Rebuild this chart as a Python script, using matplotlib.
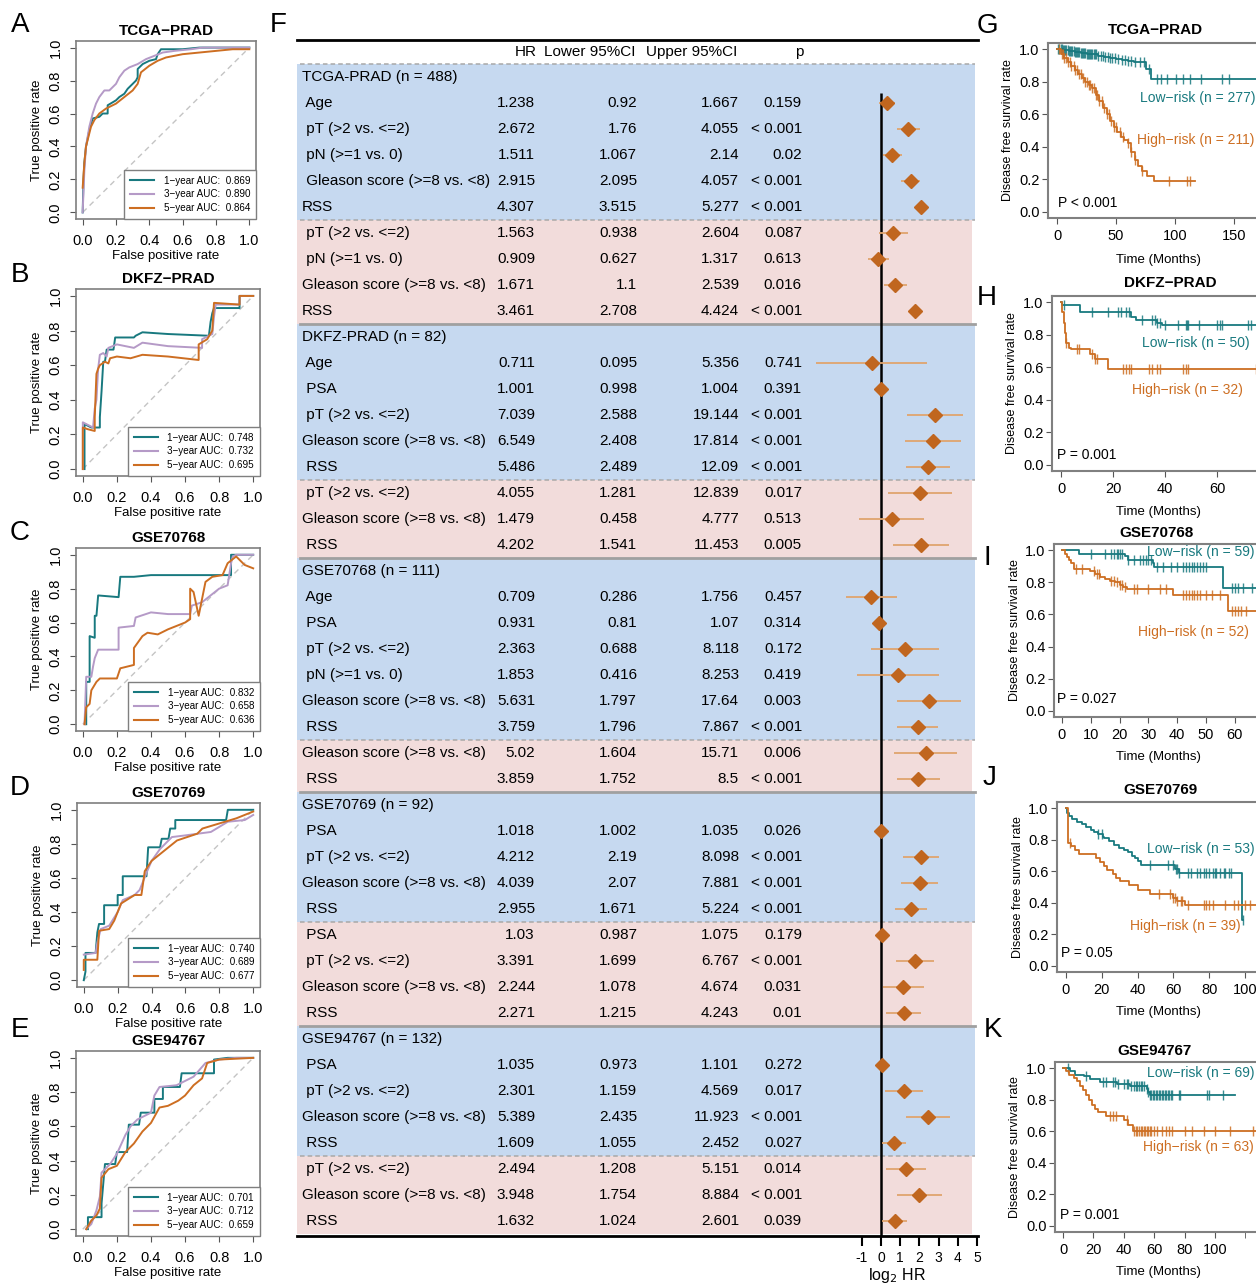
"""
Prognostic signature figure: ROC (A-E), multivariate forest (F), KM curves (G-K)
"""

import numpy as np
import matplotlib.pyplot as plt
from matplotlib.lines import Line2D
from matplotlib.transforms import blended_transform_factory

plt.rcParams['font.family'] = ['Liberation Sans', 'DejaVu Sans']
plt.rcParams['axes.unicode_minus'] = False

W, H = 1256, 1284
TEAL = '#18797F'
PURPLE = '#B59AC7'
ORANGE = '#CD6E22'
DASH = '\u2212'

# ---------------- ROC curves (fpr, tpr) ----------------
tcga_roc_1y = [(0, 0), (0.005, 0.2), (0.01, 0.3), (0.02, 0.4), (0.04, 0.5), (0.06, 0.57), (0.1, 0.58),
               (0.12, 0.6), (0.15, 0.6), (0.15, 0.65), (0.2, 0.68), (0.22, 0.7), (0.25, 0.72), (0.27, 0.75),
               (0.3, 0.78), (0.32, 0.8), (0.33, 0.82), (0.33, 0.87), (0.36, 0.9), (0.4, 0.92), (0.44, 0.93),
               (0.45, 0.96), (0.47, 0.99), (0.6, 0.99), (0.7, 1.0), (1, 1)]
tcga_roc_3y = [(0, 0), (0.01, 0.25), (0.02, 0.4), (0.04, 0.52), (0.06, 0.6), (0.08, 0.66), (0.1, 0.7),
               (0.13, 0.74), (0.16, 0.74), (0.2, 0.78), (0.22, 0.82), (0.25, 0.86), (0.28, 0.88), (0.33, 0.9),
               (0.38, 0.93), (0.43, 0.95), (0.48, 0.97), (0.55, 0.98), (0.65, 0.99), (0.72, 1.0), (1, 1)]
tcga_roc_5y = [(0, 0.15), (0.01, 0.3), (0.02, 0.4), (0.05, 0.52), (0.07, 0.56), (0.1, 0.6), (0.14, 0.63),
               (0.2, 0.66), (0.25, 0.7), (0.3, 0.74), (0.33, 0.78), (0.35, 0.85), (0.4, 0.89), (0.45, 0.92),
               (0.5, 0.94), (0.6, 0.96), (0.7, 0.97), (0.8, 0.98), (0.9, 0.99), (1, 0.99)]
tcga_auc = ['0.869', '0.890', '0.864']

dkfz_roc_1y = [(0.01, 0), (0.01, 0.26), (0.05, 0.24), (0.1, 0.24), (0.1, 0.3), (0.11, 0.45), (0.12, 0.62),
               (0.13, 0.62), (0.14, 0.69), (0.18, 0.69), (0.19, 0.76), (0.3, 0.76), (0.31, 0.77), (0.35, 0.79),
               (0.5, 0.78), (0.74, 0.77), (0.75, 0.85), (0.76, 0.9), (0.77, 0.93), (0.92, 0.93), (0.92, 1), (1, 1)]
dkfz_roc_3y = [(0, 0), (0, 0.27), (0.02, 0.26), (0.06, 0.24), (0.07, 0.35), (0.08, 0.4), (0.09, 0.58),
               (0.1, 0.66), (0.12, 0.67), (0.14, 0.65), (0.15, 0.7), (0.2, 0.72), (0.3, 0.7), (0.35, 0.73),
               (0.5, 0.71), (0.7, 0.7), (0.7, 0.75), (0.76, 0.78), (0.77, 0.88), (0.78, 0.95), (0.92, 0.95),
               (0.92, 1), (1, 1)]
dkfz_roc_5y = [(0, 0), (0, 0.24), (0.03, 0.23), (0.07, 0.22), (0.07, 0.3), (0.08, 0.55), (0.09, 0.58),
               (0.1, 0.6), (0.13, 0.62), (0.15, 0.61), (0.16, 0.64), (0.2, 0.65), (0.28, 0.64), (0.35, 0.66),
               (0.5, 0.65), (0.68, 0.63), (0.68, 0.72), (0.73, 0.75), (0.76, 0.8), (0.77, 0.96), (0.92, 0.95),
               (0.92, 1), (1, 1)]
dkfz_auc = ['0.748', '0.732', '0.695']

g68_roc_1y = [(0.02, 0), (0.02, 0.25), (0.04, 0.25), (0.04, 0.52), (0.07, 0.51), (0.07, 0.64), (0.08, 0.64),
              (0.09, 0.76), (0.21, 0.75), (0.22, 0.87), (0.3, 0.87), (0.4, 0.88), (0.87, 0.88), (0.87, 1.0), (1, 1)]
g68_roc_3y = [(0.01, 0), (0.02, 0.28), (0.05, 0.28), (0.06, 0.34), (0.07, 0.39), (0.09, 0.44), (0.21, 0.44),
              (0.21, 0.57), (0.3, 0.58), (0.31, 0.63), (0.4, 0.66), (0.5, 0.65), (0.63, 0.65), (0.64, 0.7),
              (0.7, 0.72), (0.8, 0.8), (0.85, 0.82), (0.87, 0.95), (0.88, 0.99), (0.9, 1.0), (1, 1)]
g68_roc_5y = [(0.01, 0), (0.02, 0.1), (0.04, 0.12), (0.05, 0.2), (0.08, 0.25), (0.1, 0.27), (0.2, 0.27),
              (0.22, 0.33), (0.3, 0.35), (0.3, 0.45), (0.35, 0.52), (0.38, 0.54), (0.44, 0.53), (0.5, 0.56),
              (0.6, 0.6), (0.63, 0.62), (0.63, 0.8), (0.65, 0.78), (0.68, 0.64), (0.72, 0.84), (0.76, 0.87),
              (0.82, 0.88), (0.85, 0.95), (0.9, 0.99), (0.95, 0.94), (1, 0.92)]
g68_auc = ['0.832', '0.658', '0.636']

g69_roc_1y = [(0, 0), (0.01, 0.05), (0.01, 0.16), (0.07, 0.16), (0.08, 0.28), (0.09, 0.33), (0.12, 0.33),
              (0.12, 0.44), (0.2, 0.44), (0.2, 0.5), (0.23, 0.5), (0.23, 0.61), (0.37, 0.61), (0.38, 0.78),
              (0.45, 0.78), (0.46, 0.83), (0.5, 0.83), (0.51, 0.89), (0.54, 0.89), (0.54, 0.94), (0.84, 0.94),
              (0.85, 1.0), (1, 1)]
g69_roc_3y = [(0, 0.15), (0.07, 0.16), (0.08, 0.22), (0.1, 0.3), (0.15, 0.32), (0.2, 0.4), (0.23, 0.47),
              (0.3, 0.5), (0.33, 0.53), (0.37, 0.63), (0.4, 0.7), (0.45, 0.77), (0.48, 0.8), (0.52, 0.84),
              (0.6, 0.85), (0.75, 0.87), (0.85, 0.93), (0.95, 0.94), (1, 0.97)]
g69_roc_5y = [(0, 0.06), (0, 0.12), (0.08, 0.12), (0.09, 0.29), (0.15, 0.3), (0.18, 0.35), (0.22, 0.45),
              (0.3, 0.5), (0.34, 0.5), (0.36, 0.64), (0.4, 0.7), (0.45, 0.74), (0.5, 0.78), (0.55, 0.82),
              (0.67, 0.86), (0.7, 0.89), (0.8, 0.92), (0.9, 0.95), (1, 0.99)]
g69_auc = ['0.740', '0.689', '0.677']

g94_roc_1y = [(0.03, 0), (0.03, 0.07), (0.11, 0.07), (0.11, 0.15), (0.13, 0.38), (0.19, 0.38), (0.2, 0.45),
              (0.26, 0.45), (0.27, 0.61), (0.33, 0.61), (0.34, 0.68), (0.42, 0.68), (0.42, 0.76), (0.47, 0.76),
              (0.47, 0.83), (0.57, 0.83), (0.58, 0.91), (0.77, 0.91), (0.77, 0.99), (0.85, 1.0), (1, 1)]
g94_roc_3y = [(0.02, 0), (0.05, 0.03), (0.08, 0.11), (0.1, 0.19), (0.11, 0.33), (0.16, 0.38), (0.2, 0.44),
              (0.25, 0.55), (0.28, 0.6), (0.32, 0.64), (0.4, 0.68), (0.42, 0.78), (0.45, 0.83), (0.55, 0.84),
              (0.65, 0.89), (0.72, 0.97), (0.8, 0.99), (0.9, 1.0), (1, 1)]
g94_roc_5y = [(0.02, 0), (0.05, 0.05), (0.08, 0.08), (0.1, 0.12), (0.11, 0.3), (0.15, 0.35), (0.2, 0.37),
              (0.25, 0.45), (0.3, 0.5), (0.35, 0.57), (0.4, 0.62), (0.45, 0.71), (0.5, 0.72), (0.56, 0.75),
              (0.6, 0.78), (0.65, 0.84), (0.7, 0.88), (0.73, 0.97), (0.8, 0.99), (1, 1)]
g94_auc = ['0.701', '0.712', '0.659']

# ---------------- Kaplan-Meier (step times, survival, censor times, end) ----------------
km_tcga_low_t = [0, 5, 10, 15, 20, 25, 30, 35, 40, 45, 50, 55, 60, 65, 70, 75, 80]
km_tcga_low_s = [1, 0.995, 0.99, 0.985, 0.98, 0.975, 0.97, 0.96, 0.955, 0.95, 0.94, 0.935, 0.93, 0.925, 0.92, 0.88, 0.82]
km_tcga_low_c = [1, 2, 3, 4, 5, 6, 7, 8, 9, 10, 11, 12, 13, 14, 15, 16, 17, 18, 19, 20, 21, 22, 23, 24, 25, 26,
                 27, 28, 29, 30, 31, 32, 33, 35, 37, 39, 41, 43, 45, 47, 49, 52, 55, 58, 60, 63, 66, 70, 74, 78,
                 85, 88, 93, 101, 107, 113, 122, 140, 146]
km_tcga_high_t = [0, 3, 6, 9, 12, 15, 18, 21, 24, 27, 30, 33, 36, 39, 42, 45, 48, 51, 54, 57, 60, 63, 66, 69, 72, 76, 82]
km_tcga_high_s = [1, 0.975, 0.95, 0.925, 0.9, 0.875, 0.85, 0.825, 0.8, 0.78, 0.76, 0.72, 0.68, 0.64, 0.6, 0.56,
                  0.52, 0.49, 0.46, 0.44, 0.42, 0.37, 0.32, 0.28, 0.25, 0.22, 0.19]
km_tcga_high_c = [2, 4, 5, 6, 8, 9, 11, 12, 14, 15, 17, 19, 20, 22, 24, 25, 27, 28, 30, 31, 33, 34, 36, 38, 40,
                  42, 44, 46, 48, 50, 53, 56, 60, 63, 66, 72, 95, 110, 113]

km_dkfz_low_t = [0, 0.5, 7.4, 27, 29, 37, 39]
km_dkfz_low_s = [1, 0.985, 0.94, 0.91, 0.89, 0.875, 0.86]
km_dkfz_low_c = [1, 12, 18, 22, 23, 25, 26, 31, 35, 36, 37, 38, 40, 45, 48, 48.5, 49, 53, 60, 61, 62, 72, 73]
km_dkfz_high_t = [0, 0.5, 1, 1.5, 2, 3, 4, 11, 13, 18]
km_dkfz_high_s = [1, 0.94, 0.875, 0.81, 0.75, 0.72, 0.71, 0.68, 0.65, 0.59]
km_dkfz_high_c = [2, 6, 7, 12, 13, 14, 24, 25, 26, 27, 34, 35, 37, 38, 47, 48, 49, 75]

km_g68_low_t = [0, 6, 22, 23, 31.5, 32, 56]
km_g68_low_s = [1, 0.98, 0.965, 0.94, 0.92, 0.895, 0.765]
km_g68_low_c = [10, 15, 17, 18, 19, 19.5, 20, 21, 23, 25, 27, 28, 29, 30, 31, 33, 35, 38, 40, 42, 43, 44, 45,
                46, 47, 48, 49, 50, 59, 60, 61, 63, 66]
km_g68_high_t = [0, 0.9, 1.7, 2.4, 3.2, 4.2, 9.6, 11.4, 13.1, 14.8, 16.6, 18.3, 20, 21.2, 22.4, 38.6, 57.7]
km_g68_high_s = [1, 0.98, 0.96, 0.94, 0.92, 0.885, 0.87, 0.85, 0.835, 0.82, 0.81, 0.8, 0.785, 0.77, 0.76, 0.72, 0.62]
km_g68_high_c = [5, 7, 11, 12, 13, 17, 18, 19, 20, 21, 22, 25, 26, 30, 34, 36, 42, 43, 44, 45, 46, 47, 48, 50,
                 52, 55, 59, 60, 61, 62, 64]

km_g69_low_t = [0, 0.5, 1.4, 3.3, 6, 8.7, 11.4, 14.1, 15.9, 17.7, 20.4, 21.3, 24, 26.8, 29.5, 32.2, 34.9, 36.7,
                38.5, 40.3, 42.1, 61.1, 62.9, 98.2]
km_g69_low_s = [1, 0.97, 0.95, 0.93, 0.91, 0.9, 0.88, 0.865, 0.85, 0.835, 0.82, 0.81, 0.79, 0.77, 0.75, 0.735,
                0.72, 0.7, 0.685, 0.665, 0.64, 0.615, 0.59, 0.29]
km_g69_low_c = [18, 20, 47, 57, 60, 61.5, 62, 63, 68, 70, 73, 75, 77, 78, 80, 82, 83, 84, 86, 88, 89, 91, 92, 99]
km_g69_high_t = [0, 1, 3, 5, 7, 17, 19, 21, 23, 26, 28, 30, 35, 40, 47, 60, 62, 66.5]
km_g69_high_s = [1, 0.78, 0.76, 0.735, 0.71, 0.685, 0.66, 0.635, 0.61, 0.585, 0.56, 0.535, 0.51, 0.48, 0.455,
                 0.43, 0.41, 0.385]
km_g69_high_c = [2, 52, 58, 60, 61, 62, 64, 65, 68, 77, 78, 80, 82, 89, 94, 96, 100, 103]

km_g94_low_t = [0, 4.8, 8, 13.6, 18, 24.5, 35.4, 44, 55, 56, 57]
km_g94_low_s = [1, 0.98, 0.96, 0.95, 0.93, 0.915, 0.9, 0.89, 0.87, 0.85, 0.83]
km_g94_low_c = [3, 15, 26, 28, 33, 34, 36, 40, 42, 43, 45, 47, 48, 49, 50, 51, 52, 53, 55, 56, 57, 58, 59, 60,
                61, 62, 63, 64, 65, 66, 67, 68, 69, 70, 71, 72, 76, 77, 95, 96, 105]
km_g94_high_t = [0, 2, 4, 7, 9, 11, 13, 15, 17, 19, 21, 23, 28, 40, 43, 46]
km_g94_high_s = [1, 0.98, 0.96, 0.94, 0.92, 0.89, 0.86, 0.83, 0.8, 0.77, 0.74, 0.72, 0.7, 0.67, 0.64, 0.6]
km_g94_high_c = [31, 33, 35, 42, 47, 48, 49, 50, 51, 52, 53, 54, 55, 56, 57, 58, 60, 62, 65, 68, 70, 72, 80,
                 85, 93, 100, 110, 125]

# ---------------- Forest table ----------------
forest_labels = [
    "TCGA-PRAD (n = 488)", " Age", " pT (>2 vs. <=2)", " pN (>=1 vs. 0)", " Gleason score (>=8 vs. <8)", "RSS",
    " pT (>2 vs. <=2)", " pN (>=1 vs. 0)", "Gleason score (>=8 vs. <8)", "RSS",
    "DKFZ-PRAD (n = 82)", " Age", " PSA", " pT (>2 vs. <=2)", "Gleason score (>=8 vs. <8)", " RSS",
    " pT (>2 vs. <=2)", "Gleason score (>=8 vs. <8)", " RSS",
    "GSE70768 (n = 111)", " Age", " PSA", " pT (>2 vs. <=2)", " pN (>=1 vs. 0)", "Gleason score (>=8 vs. <8)", " RSS",
    "Gleason score (>=8 vs. <8)", " RSS",
    "GSE70769 (n = 92)", " PSA", " pT (>2 vs. <=2)", "Gleason score (>=8 vs. <8)", " RSS",
    " PSA", " pT (>2 vs. <=2)", "Gleason score (>=8 vs. <8)", " RSS",
    "GSE94767 (n = 132)", " PSA", " pT (>2 vs. <=2)", "Gleason score (>=8 vs. <8)", " RSS",
    " pT (>2 vs. <=2)", "Gleason score (>=8 vs. <8)", " RSS",
]
forest_hr = ["", "1.238", "2.672", "1.511", "2.915", "4.307", "1.563", "0.909", "1.671", "3.461",
             "", "0.711", "1.001", "7.039", "6.549", "5.486", "4.055", "1.479", "4.202",
             "", "0.709", "0.931", "2.363", "1.853", "5.631", "3.759", "5.02", "3.859",
             "", "1.018", "4.212", "4.039", "2.955", "1.03", "3.391", "2.244", "2.271",
             "", "1.035", "2.301", "5.389", "1.609", "2.494", "3.948", "1.632"]
forest_lo = ["", "0.92", "1.76", "1.067", "2.095", "3.515", "0.938", "0.627", "1.1", "2.708",
             "", "0.095", "0.998", "2.588", "2.408", "2.489", "1.281", "0.458", "1.541",
             "", "0.286", "0.81", "0.688", "0.416", "1.797", "1.796", "1.604", "1.752",
             "", "1.002", "2.19", "2.07", "1.671", "0.987", "1.699", "1.078", "1.215",
             "", "0.973", "1.159", "2.435", "1.055", "1.208", "1.754", "1.024"]
forest_hi = ["", "1.667", "4.055", "2.14", "4.057", "5.277", "2.604", "1.317", "2.539", "4.424",
             "", "5.356", "1.004", "19.144", "17.814", "12.09", "12.839", "4.777", "11.453",
             "", "1.756", "1.07", "8.118", "8.253", "17.64", "7.867", "15.71", "8.5",
             "", "1.035", "8.098", "7.881", "5.224", "1.075", "6.767", "4.674", "4.243",
             "", "1.101", "4.569", "11.923", "2.452", "5.151", "8.884", "2.601"]
forest_p = ["", "0.159", "< 0.001", "0.02", "< 0.001", "< 0.001", "0.087", "0.613", "0.016", "< 0.001",
            "", "0.741", "0.391", "< 0.001", "< 0.001", "< 0.001", "0.017", "0.513", "0.005",
            "", "0.457", "0.314", "0.172", "0.419", "0.003", "< 0.001", "0.006", "< 0.001",
            "", "0.026", "< 0.001", "< 0.001", "< 0.001", "0.179", "< 0.001", "0.031", "0.01",
            "", "0.272", "0.017", "< 0.001", "0.027", "0.014", "< 0.001", "0.039"]
# rows per dataset block: (header + univariate, multivariate)
forest_blocks = [(6, 4), (6, 3), (7, 2), (5, 4), (5, 3)]

fig = plt.figure(figsize=(W / 100, H / 100), dpi=100)


def box(l, t, r, b):
    return [l / W, 1 - b / H, (r - l) / W, (b - t) / H]


def fxy(x, y):
    return x / W, 1 - y / H


def roc_panel(rect, title, curves, aucs):
    ax = fig.add_axes(box(*rect))
    ax.plot([0, 1], [0, 1], ls=(0, (4, 3)), color='#C4C4C4', lw=1)
    for pts, c in zip(curves, [TEAL, PURPLE, ORANGE]):
        x, y = zip(*pts)
        ax.plot(x, y, color=c, lw=1.4)
    ax.set_xlim(-0.04, 1.04)
    ax.set_ylim(-0.04, 1.04)
    ticks = np.round(np.arange(0, 1.01, 0.2), 1)
    ax.set_xticks(ticks)
    ax.set_yticks(ticks)
    ax.set_xticklabels([f'{t:.1f}' for t in ticks])
    ax.set_yticklabels([f'{t:.1f}' for t in ticks], rotation=90, va='center')
    ax.tick_params(length=4, color='#555555', labelsize=10.5)
    ax.tick_params(axis='x', pad=7)
    ax.tick_params(axis='y', pad=5.5)
    for s in ax.spines.values():
        s.set_color('#7F7F7F')
        s.set_linewidth(1.2)
    ax.set_title(title, fontweight='bold', fontsize=11, pad=4)
    ax.set_xlabel('False positive rate', fontsize=9.5, labelpad=1)
    ax.set_ylabel('True positive rate', fontsize=9.5, labelpad=4)
    handles = [Line2D([], [], color=c, lw=1.5) for c in [TEAL, PURPLE, ORANGE]]
    labels = [f'{yr}{DASH}year AUC:  {a}' for yr, a in zip([1, 3, 5], aucs)]
    leg = ax.legend(handles, labels, loc='lower right', fontsize=7.1, frameon=True, fancybox=False,
                    borderaxespad=0, handlelength=2.4, handletextpad=1.0, labelspacing=0.38,
                    borderpad=0.6, edgecolor='#7F7F7F', framealpha=1)
    leg.get_frame().set_linewidth(1.0)
    return ax


roc_panel((76, 41, 256, 219), f'TCGA{DASH}PRAD', [tcga_roc_1y, tcga_roc_3y, tcga_roc_5y], tcga_auc)
roc_panel((76, 289, 260, 476), f'DKFZ{DASH}PRAD', [dkfz_roc_1y, dkfz_roc_3y, dkfz_roc_5y], dkfz_auc)
roc_panel((76, 548, 260, 731), 'GSE70768', [g68_roc_1y, g68_roc_3y, g68_roc_5y], g68_auc)
roc_panel((77, 803, 260, 987), 'GSE70769', [g69_roc_1y, g69_roc_3y, g69_roc_5y], g69_auc)
roc_panel((76, 1051, 260, 1236), 'GSE94767', [g94_roc_1y, g94_roc_3y, g94_roc_5y], g94_auc)


# ---------------- KM panels ----------------
def km_curve(ax, t, s, cens, end, color):
    t = np.array(t + [end], dtype=float)
    s = np.array(s + [s[-1]], dtype=float)
    ax.step(t, s, where='post', color=color, lw=1.3)
    cens = np.array(cens, dtype=float)
    idx = np.searchsorted(t, cens, side='right') - 1
    ax.plot(cens, s[idx], ls='none', marker='|', ms=7, mew=1.0, color=color, alpha=0.85)


def km_panel(left, top, bottom, x0, ppu, xmax, ticks, groups, texts, p_text, title, title_xy,
             ylab_x, xlab_y):
    right = x0 + xmax * ppu
    ax = fig.add_axes(box(left, top, right, bottom))
    for (t, s, c, e), col in zip(groups, [TEAL, ORANGE]):
        km_curve(ax, t, s, c, e, col)
    ax.set_xlim(-(x0 - left) / ppu, xmax)
    ax.set_ylim(-0.04, 1.04)
    ax.set_xticks(ticks)
    yt = np.round(np.arange(0, 1.01, 0.2), 1)
    ax.set_yticks(yt)
    ax.set_yticklabels([f'{v:.1f}' for v in yt])
    ax.tick_params(length=4, color='#555555', labelsize=10.5, pad=2)
    ax.tick_params(axis='x', pad=4)
    for sp in ax.spines.values():
        sp.set_color('#808080')
        sp.set_linewidth(1.5)
    (lx, ly, ltxt), (hx, hy, htxt) = texts
    ax.text(lx, ly, ltxt, color=TEAL, fontsize=10, va='center')
    ax.text(hx, hy, htxt, color=ORANGE, fontsize=10, va='center')
    ax.text(p_text[0], p_text[1], p_text[2], fontsize=10, va='center')
    fig.text(*fxy(*title_xy), title, fontweight='bold', fontsize=11, ha='center', va='center')
    fig.text(*fxy(ylab_x, (top + bottom) / 2), 'Disease free survival rate', fontsize=9, rotation=90,
             ha='center', va='center')
    fig.text(*fxy(1158, xlab_y), 'Time (Months)', fontsize=9.5, ha='center', va='center')
    return ax


km_panel(1048, 43, 218, 1057, 1.18, 180, [0, 50, 100, 150],
         [(km_tcga_low_t, km_tcga_low_s, km_tcga_low_c, 180), (km_tcga_high_t, km_tcga_high_s, km_tcga_high_c, 117)],
         [(70, 0.70, f'Low{DASH}risk (n = 277)'), (67.5, 0.44, f'High{DASH}risk (n = 211)')],
         (1, 0.05, 'P < 0.001'), f'TCGA{DASH}PRAD', (1155, 30), 1008, 260)
km_panel(1052, 296, 471, 1061, 2.6, 82, [0, 20, 40, 60],
         [(km_dkfz_low_t, km_dkfz_low_s, km_dkfz_low_c, 82), (km_dkfz_high_t, km_dkfz_high_s, km_dkfz_high_c, 82)],
         [(31, 0.75, f'Low{DASH}risk (n = 50)'), (27.5, 0.46, f'High{DASH}risk (n = 32)')],
         (-1.5, 0.06, 'P = 0.001'), f'DKFZ{DASH}PRAD', (1170, 283), 1012, 512)
km_panel(1054, 544, 717, 1062, 2.88, 70, [0, 10, 20, 30, 40, 50, 60],
         [(km_g68_low_t, km_g68_low_s, km_g68_low_c, 70), (km_g68_high_t, km_g68_high_s, km_g68_high_c, 70)],
         [(29.5, 0.99, f'Low{DASH}risk (n = 59)'), (26.5, 0.49, f'High{DASH}risk (n = 52)')],
         (-1.7, 0.07, 'P = 0.027'), 'GSE70768', (1157, 533), 1015, 757)
km_panel(1057, 802, 972, 1066, 1.79, 112, [0, 20, 40, 60, 80, 100],
         [(km_g69_low_t, km_g69_low_s, km_g69_low_c, 99), (km_g69_high_t, km_g69_high_s, km_g69_high_c, 112)],
         [(45, 0.74, f'Low{DASH}risk (n = 53)'), (35.5, 0.25, f'High{DASH}risk (n = 39)')],
         (-2.7, 0.08, 'P = 0.05'), 'GSE70769', (1160, 790), 1018, 1012)
axk = km_panel(1055, 1062, 1232, 1063, 1.52, 130, [0, 20, 40, 60, 80, 100],
               [(km_g94_low_t, km_g94_low_s, km_g94_low_c, 113), (km_g94_high_t, km_g94_high_s, km_g94_high_c, 130)],
               [(55, 0.97, f'Low{DASH}risk (n = 69)'), (52.5, 0.5, f'High{DASH}risk (n = 63)')],
               (-2, 0.07, 'P = 0.001'), 'GSE94767', (1155, 1051), 1015, 1272)
axk.set_xticks([120], minor=True)
axk.tick_params(which='minor', length=4, color='#555555')

# ---------------- Forest plot F ----------------
px0, ppx = 881, 19.2          # pixel of log2 HR = 0, pixels per unit
fl, fr, ft, fb = 297, 978, 40, 1236
axf = fig.add_axes(box(fl, ft, fr, fb))
axf.set_facecolor('none')
axf.set_xlim(-(px0 - fl) / ppx, (fr - px0) / ppx)
axf.set_ylim((fb - 77) / 26, (ft - 77) / 26)

BLUE, PINK = '#C6D9F0', '#F2DCDB'
start = 0
for n_uni, n_multi in forest_blocks:
    axf.axhspan(start - 0.5, start + n_uni - 0.5, xmin=0, xmax=0.995, color=BLUE, lw=0, zorder=0)
    axf.axhspan(start + n_uni - 0.5, start + n_uni + n_multi - 0.5, xmin=0, xmax=0.991, color=PINK, lw=0, zorder=0)
    axf.axhline(start + n_uni - 0.5, xmin=0.004, xmax=0.995, color='#A8A8A8', lw=1.1, ls=(0, (3, 2)), zorder=1)
    if start > 0:
        axf.axhline(start - 0.5, xmin=0.004, xmax=0.995, color='#A0A0A0', lw=2, zorder=1)
    else:
        axf.axhline(start - 0.5, xmin=0.004, xmax=0.995, color='#A8A8A8', lw=1.1, ls=(0, (3, 2)), zorder=1)
    start += n_uni + n_multi

trans = blended_transform_factory(axf.transAxes, axf.transData)


def colx(p):
    return (p - fl) / (fr - fl)


fs = 11
axf.text(colx(537), -0.95, 'HR', ha='right', va='center', fontsize=fs, transform=trans)
axf.text(colx(635), -0.95, 'Lower 95%CI', ha='right', va='center', fontsize=fs, transform=trans)
axf.text(colx(737), -0.95, 'Upper 95%CI', ha='right', va='center', fontsize=fs, transform=trans)
axf.text(colx(799), -0.95, 'p', ha='center', va='center', fontsize=fs, transform=trans)

for i, lab in enumerate(forest_labels):
    axf.text(colx(302), i, lab, ha='left', va='center', fontsize=fs, transform=trans)
    if forest_hr[i]:
        axf.text(colx(535), i, forest_hr[i], ha='right', va='center', fontsize=fs, transform=trans)
        axf.text(colx(637), i, forest_lo[i], ha='right', va='center', fontsize=fs, transform=trans)
        axf.text(colx(739), i, forest_hi[i], ha='right', va='center', fontsize=fs, transform=trans)
        axf.text(colx(802), i, forest_p[i], ha='right', va='center', fontsize=fs, transform=trans)

rows = np.array([i for i, h in enumerate(forest_hr) if h])
hr = np.log2([float(forest_hr[i]) for i in rows])
lo = np.log2([float(forest_lo[i]) for i in rows])
hi = np.log2([float(forest_hi[i]) for i in rows])
axf.vlines(0, 0.6, (fb - 77) / 26, color='black', lw=1.8, zorder=2)
axf.hlines(rows, lo, hi, color='#E0A46E', lw=1.3, zorder=3)
axf.plot(hr, rows, ls='none', marker='D', ms=7.5, color='#C0661F', zorder=4)

for side in ['left', 'right']:
    axf.spines[side].set_visible(False)
for side in ['top', 'bottom']:
    axf.spines[side].set_linewidth(2)
axf.set_yticks([])
axf.set_xticks(range(-1, 6))
axf.tick_params(axis='x', length=7, width=1.5, labelsize=10, pad=3.5)
axf.set_xlabel('log$_2$ HR', fontsize=11.5)
axf.xaxis.set_label_coords(colx(897), -0.0255)

# ---------------- panel letters ----------------
for letter, (x, y) in zip('ABCDEFGHIJK', [(20, 25), (20, 275), (20, 533), (20, 788), (20, 1030), (278, 25),
                                           (987, 26), (987, 298), (987, 558), (990, 778), (993, 1030)]):
    fig.text(*fxy(x, y), letter, fontsize=20, ha='center', va='center')

fig.savefig('out.png', dpi=100)
